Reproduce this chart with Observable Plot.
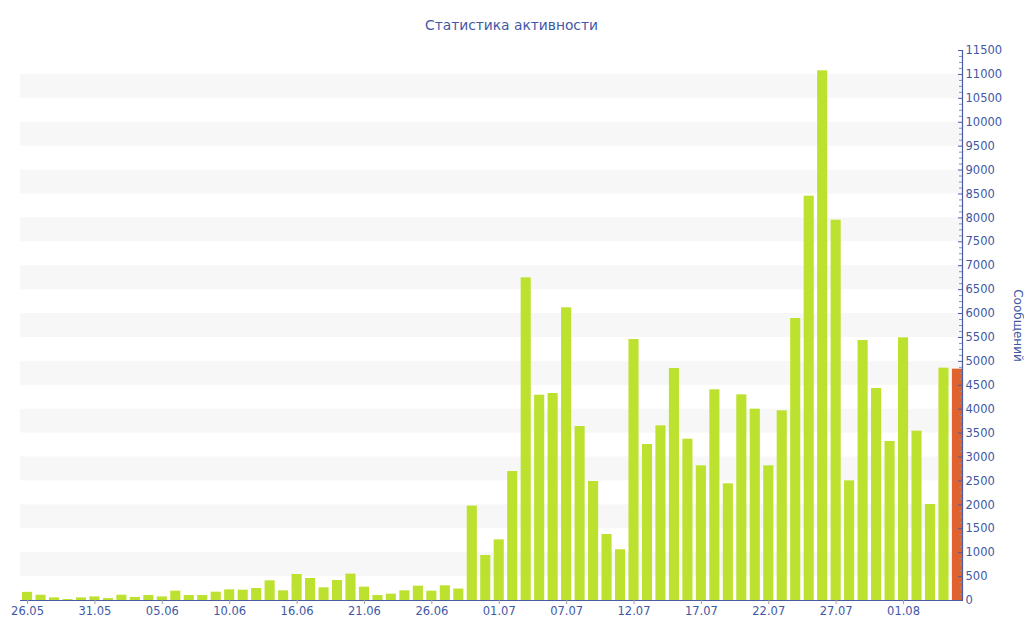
<!DOCTYPE html>
<html>
<head>
<meta charset="utf-8">
<script src="https://cdn.jsdelivr.net/npm/d3@7"></script>
<script src="https://cdn.jsdelivr.net/npm/@observablehq/plot@0.6"></script>
<style>
  html, body { margin: 0; padding: 0; background: #fff; }
</style>
</head>
<body>
<div id="chart"></div>
<script>
// Days shown on the chart (the source data skips a couple of days)
const dates = [
  "26.05","27.05","28.05","29.05","30.05","31.05",
  "01.06","02.06","03.06","04.06","05.06","06.06","07.06","08.06","09.06","10.06",
  "11.06","12.06","14.06","15.06","16.06",
  "17.06","18.06","19.06","20.06","21.06","22.06","23.06","24.06","25.06","26.06",
  "27.06","28.06","29.06","30.06","01.07",
  "02.07","03.07","05.07","06.07","07.07",
  "08.07","09.07","10.07","11.07","12.07","13.07","14.07","15.07","16.07","17.07",
  "18.07","19.07","20.07","21.07","22.07","23.07","24.07","25.07","26.07","27.07",
  "28.07","29.07","30.07","31.07","01.08","02.08","03.08","04.08","05.08"
];

// Messages per day
const messages = [
  170, 110, 55, 20, 55, 75,
  40, 110, 65, 105, 75, 195, 105, 105, 174, 223,
  216, 251, 411, 202, 544,
  460, 265, 418, 551, 279, 105, 132, 202, 300, 195,
  307, 240, 1975, 941, 1268,
  2697, 6747, 4293, 4328, 6120,
  3638, 2488, 1380, 1060, 5457, 3262, 3652, 4851, 3373, 2816,
  4405, 2440, 4300, 4000, 2816, 3966, 5896, 8454, 11075, 7952,
  2502, 5436, 4433, 3325, 5492, 3541, 2007, 4858, 4837
];

// Labelled dates on the x axis
const xTickLabels = ["26.05","31.05","05.06","10.06","16.06","21.06","26.06",
                     "01.07","07.07","12.07","17.07","22.07","27.07","01.08"];

// Y axis ticks
const yMajorTicks = [0,500,1000,1500,2000,2500,3000,3500,4000,4500,5000,5500,
                     6000,6500,7000,7500,8000,8500,9000,9500,10000,10500,11000,11500];
const yMax = 11500;

const title = "Статистика активности";
const yLabel = "Сообщений";

// Derived helpers
const rows = dates.map((d, i) => ({date: d, value: messages[i], last: i === dates.length - 1}));
const yMinorTicks = d3.range(0, yMax, 125).filter(v => v % 500 !== 0);
const stripeStarts = yMajorTicks.filter(v => v % 1000 === 500 && v + 500 <= 11000);

const textColor = "#4058a4";
const axisColor = "#4a5c9f";
const barColor = "#bde12f";
const lastColor = "#e0632f";
const frameWidth = 1024 - 20 - 62;

const chart = Plot.plot({
  width: 1024,
  height: 640,
  marginTop: 50,
  marginBottom: 40,
  marginLeft: 20,
  marginRight: 62,
  style: {fontFamily: "DejaVu Sans", fontSize: "11.5px", background: "#fff", overflow: "visible"},
  x: {type: "band", domain: dates, range: [22, 962], paddingInner: 0.25, paddingOuter: 0, axis: null},
  y: {domain: [0, yMax], axis: null},
  marks: [
    Plot.rect(stripeStarts, {y1: d => d, y2: d => d + 500, fill: "#f7f7f7"}),
    Plot.barY(rows.filter(d => !d.last), {x: "date", y: "value", fill: barColor}),
    Plot.barY(rows.filter(d => d.last), {x: "date", y: "value", fill: lastColor}),
    Plot.ruleY([0], {stroke: axisColor, strokeWidth: 1.2}),
    Plot.frame({anchor: "right", stroke: axisColor, strokeWidth: 1.2}),
    Plot.tickY(yMajorTicks, {y: d => d, stroke: axisColor, insetLeft: frameWidth - 4}),
    Plot.tickY(yMinorTicks, {y: d => d, stroke: "#8090b8", insetLeft: frameWidth - 3}),
    Plot.axisY(yMajorTicks, {anchor: "right", tickSize: 0, tickPadding: 3, fill: textColor,
                             fontSize: 11.5, tickFormat: d => String(d), label: null}),
    Plot.axisX(xTickLabels, {anchor: "bottom", tickSize: 4, tickPadding: 2, stroke: "#a0a0a0",
                             fill: textColor, fontSize: 11.5, label: null}),
    Plot.text([title], {frameAnchor: "top", lineAnchor: "middle", textAnchor: "middle",
                        dx: 20, dy: -25, fill: textColor, fontSize: 13.8, fontFamily: "DejaVu Sans"}),
    Plot.text([yLabel], {frameAnchor: "right", textAnchor: "middle", lineAnchor: "middle",
                         dx: 55, rotate: 90, fill: textColor, fontSize: 12, fontFamily: "DejaVu Sans"})
  ]
});

document.getElementById("chart").appendChild(chart);
</script>
</body>
</html>
